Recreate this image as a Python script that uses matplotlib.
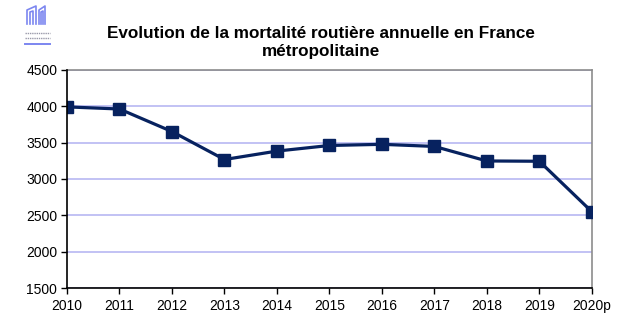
import matplotlib.pyplot as plt
from matplotlib.lines import Line2D

# Mortalité routière annuelle, France métropolitaine
annees = ['2010', '2011', '2012', '2013', '2014', '2015', '2016', '2017', '2018', '2019', '2020p']
tues = [3992, 3963, 3653, 3268, 3384, 3461, 3477, 3448, 3248, 3244, 2550]

plt.rcParams['font.family'] = ['Liberation Sans', 'DejaVu Sans']

fig = plt.figure(figsize=(6.35, 3.21), dpi=100)
ax = fig.add_axes([0.1055, 0.1028, 0.8265, 0.6792])

x = list(range(len(annees)))
ax.plot(x, tues, color='#07225F', linewidth=2.3, marker='s', markersize=8,
        markerfacecolor='#07225F', markeredgecolor='#07225F', zorder=3)

ax.set_xlim(0, len(annees) - 1)
ax.set_ylim(1500, 4500)
ax.set_yticks(range(1500, 4501, 500))
ax.set_xticks(x)
ax.set_xticklabels(annees)
ax.tick_params(labelsize=10, length=4, width=1, direction='out', pad=3)
ax.tick_params(axis='x', pad=4)

ax.yaxis.grid(True, color='#B8B8F2', linewidth=1.2)
ax.set_axisbelow(True)
for side in ['left', 'bottom']:
    ax.spines[side].set_color('black')
    ax.spines[side].set_linewidth(1.2)
for side in ['top', 'right']:
    ax.spines[side].set_color('#8C8C8C')
    ax.spines[side].set_linewidth(1.2)
ax.spines['bottom'].set_zorder(4)
ax.spines['left'].set_zorder(4)

fig.text(0.505, 0.868, "Evolution de la mortalité routière annuelle en France\nmétropolitaine",
         ha='center', va='center', fontsize=12.3, fontweight='bold', linespacing=1.3)

# petit logo en haut à gauche (coordonnées en pixels de la figure)
def px(xp, yp):
    return xp / 635, 1 - yp / 321

logo_bleu = '#7C86F0'
tracés = [
    [(27, 24), (27, 10), (36, 6), (36, 24)],
    [(30, 24), (30, 12), (33, 11), (33, 24)],
    [(39, 24), (39, 10), (45, 6), (45, 24)],
    [(41, 24), (41, 12), (43, 11), (43, 24)],
]
for pts in tracés:
    xs, ys = zip(*[px(a, b) for a, b in pts])
    fig.add_artist(Line2D(xs, ys, color=logo_bleu, linewidth=1.2))
for yl in (33, 38):
    xs, ys = zip(*[px(25, yl), px(50, yl)])
    fig.add_artist(Line2D(xs, ys, color='#9A9AAA', linewidth=1.0, linestyle=(0, (1, 0.6))))
xs, ys = zip(*[px(25, 43.5), px(50, 43.5)])
fig.add_artist(Line2D(xs, ys, color=logo_bleu, linewidth=1.4))

fig.savefig('out.png', dpi=100)
